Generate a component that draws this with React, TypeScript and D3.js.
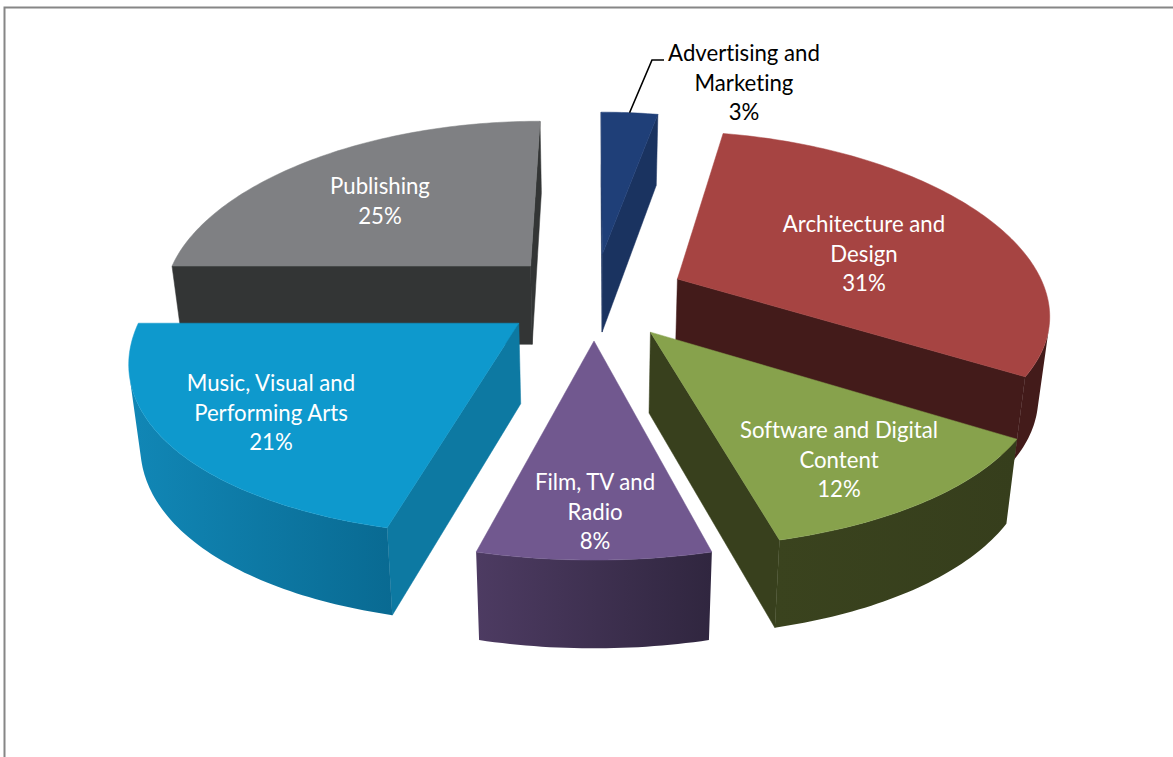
import React from "react";
import * as d3 from "d3";

// --- data
const categories = ["Advertising and Marketing", "Architecture and Design", "Software and Digital Content", "Film, TV and Radio", "Music, Visual and Performing Arts", "Publishing"];
const shares = [3, 31, 12, 8, 21, 25];
const labelLines = [
  ["Advertising and", "Marketing", "3%"],
  ["Architecture and", "Design", "31%"],
  ["Software and Digital", "Content", "12%"],
  ["Film, TV and", "Radio", "8%"],
  ["Music, Visual and", "Performing Arts", "21%"],
  ["Publishing", "25%"],
];

// --- styles
const topColors = ["#1f3f78", "#a64442", "#87a24c", "#71588f", "#0e99cd", "#7f8083"];
const radialColors = ["#1a3360", "#431b1a", "#38401d", "#3d2f50", "#0d79a2", "#333535"];
const outerLeft = ["#1a3360", "#431b1a", "#3a431e", "#4d3b62", "#1187b6", "#333535"];
const outerRight = ["#1a3360", "#431b1a", "#363e1c", "#30263f", "#096a92", "#333535"];
const labelColors = ["#000", "#fff", "#fff", "#fff", "#fff", "#fff"];

// --- layout
const W = 1173, H = 757;
const CX = 594, CY = 296;
const RX = 370, RY = 173.5, PERSP_Y = 0.143, PERSP_X = 0.18;
const EXPLODE = 0.25;
const labelCX = [744, 864, 839, 595, 271, 380];
const labelFirstY = [53, 224, 430, 482, 383, 186];
const LINE = 29.5;
const FONT = "Lato, Carlito, Calibri, sans-serif";
const FONT_SIZE = 22.2;

type P = [number, number];
const proj = (u: number, v: number, down = false): P => {
  let x = CX + (RX * u) / (1 + PERSP_X * v);
  let y = CY - (RY * v) / (1 + PERSP_Y * v);
  if (down) {
    y += 79.5 - 7 * v;
    x = CX + (x - CX) * 0.975;
  }
  return [x, y];
};
const area = (pts: P[]) => {
  let s = 0;
  pts.forEach((p, i) => {
    const q = pts[(i + 1) % pts.length];
    s += p[0] * q[1] - q[0] * p[1];
  });
  return s;
};
const line = d3.line<P>().x((d) => d[0]).y((d) => d[1]);
const closed = (pts: P[]) => (line(pts) || "") + "Z";

export default function App() {
  const arcs = d3.pie<number>().sort(null).value((d) => d)(shares);
  const slices = arcs
    .map((a, i) => ({ a0: a.startAngle, a1: a.endAngle, i, mid: (a.startAngle + a.endAngle) / 2 }))
    .sort((p, q) => d3.descending(Math.cos(p.mid), Math.cos(q.mid)));

  const defs: React.ReactNode[] = [];
  const parts: React.ReactNode[] = [];
  slices.forEach(({ a0, a1, i, mid }) => {
    const ou = EXPLODE * Math.sin(mid), ov = EXPLODE * Math.cos(mid);
    const steps = Math.max(2, Math.ceil(((a1 - a0) * 180) / Math.PI / 1));
    const theta = d3.scaleLinear().domain([0, steps]).range([a0, a1]);
    const top = (t: number, d = false) => proj(ou + Math.sin(t), ov + Math.cos(t), d);
    const apex = (d = false) => proj(ou, ov, d);

    const radial = (p: (d: boolean) => P, q: (d: boolean) => P, key: string) => {
      const quad = [p(false), q(false), q(true), p(true)];
      if (area(quad) < 0)
        parts.push(<path key={key} d={closed(quad)} fill={radialColors[i]} stroke={radialColors[i]} strokeWidth={0.5} />);
    };
    radial((d) => apex(d), (d) => top(a0, d), `s${i}`);
    radial((d) => top(a1, d), (d) => apex(d), `e${i}`);

    // visible part of the rim, as one band with a left-to-right gradient
    const vis = d3.range(steps).filter((k) => {
      const t0 = theta(k), t1 = theta(k + 1);
      return area([top(t0), top(t1), top(t1, true), top(t0, true)]) < 0;
    });
    if (vis.length) {
      const ts = [theta(vis[0]), ...vis.map((k) => theta(k + 1))];
      const band: P[] = [...ts.map((t) => top(t)), ...ts.slice().reverse().map((t) => top(t, true))];
      const [x0, x1] = d3.extent(band, (d) => d[0]) as [number, number];
      defs.push(
        <linearGradient key={`g${i}`} id={`rim${i}`} gradientUnits="userSpaceOnUse" x1={x0} x2={x1} y1={0} y2={0}>
          <stop offset="0" stopColor={outerLeft[i]} />
          <stop offset="1" stopColor={outerRight[i]} />
        </linearGradient>
      );
      parts.push(<path key={`o${i}`} d={closed(band)} fill={`url(#rim${i})`} />);
    }
    const face: P[] = [apex(), ...d3.range(steps + 1).map((k) => top(theta(k)))];
    parts.push(<path key={`t${i}`} d={closed(face)} fill={topColors[i]} stroke={topColors[i]} strokeWidth={0.5} />);
  });

  const m0 = (arcs[0].startAngle + arcs[0].endAngle) / 2;
  const leader = proj((EXPLODE + 1) * Math.sin(m0), (EXPLODE + 1) * Math.cos(m0));

  return (
    <svg width={W} height={H} style={{ position: "absolute", left: 0, top: 0, display: "block" }}>
      <title>{categories.join(", ")}</title>
      <defs>{defs}</defs>
      <rect width={W} height={H} fill="#fff" />
      <path d={`M4.5,${H}V7.5H${W}`} fill="none" stroke="#868686" strokeWidth={2} />
      {parts}
      <path d={`M${leader[0]},${leader[1]}L652,60H664`} fill="none" stroke="#000" strokeWidth={1.6} />
      {labelLines.map((ls, i) => (
        <text key={i} textAnchor="middle" fontFamily={FONT} fontSize={FONT_SIZE} fill={labelColors[i]} style={{ fontVariantLigatures: "none" }}>
          {ls.map((s, j) => (
            <tspan key={j} x={labelCX[i]} y={labelFirstY[i] + j * LINE + 8}>{s}</tspan>
          ))}
        </text>
      ))}
    </svg>
  );
}
